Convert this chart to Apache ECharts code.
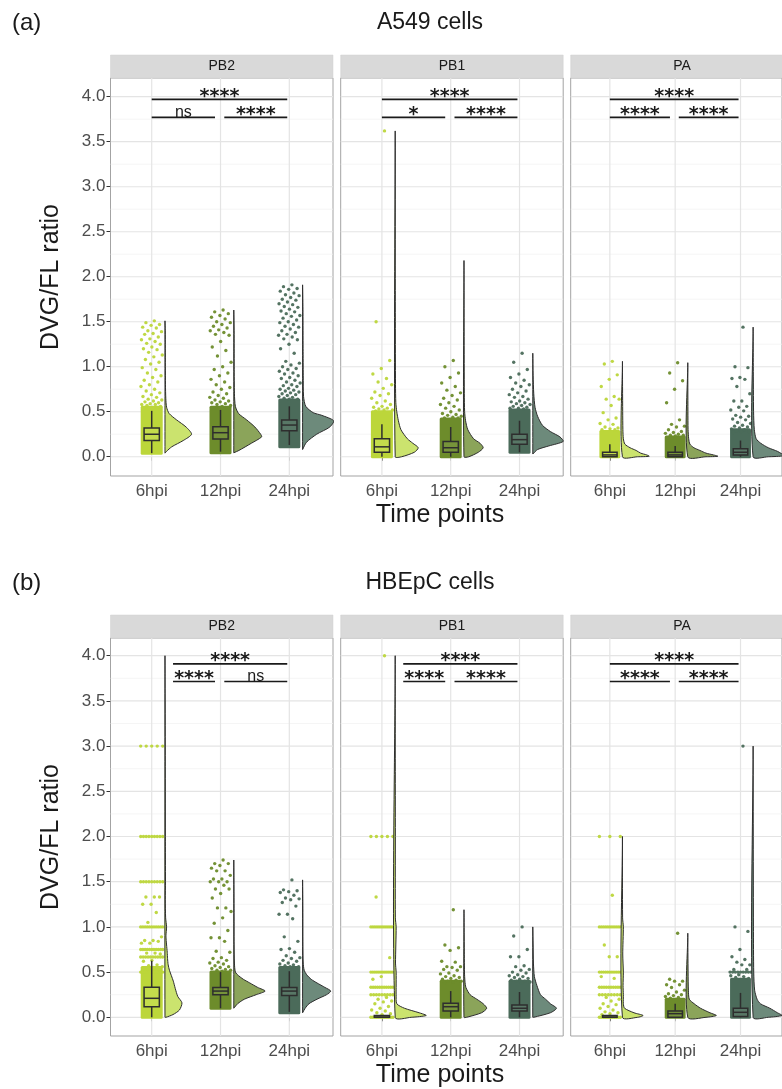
<!DOCTYPE html>
<html><head><meta charset="utf-8">
<script src="https://cdn.jsdelivr.net/npm/echarts@6/dist/echarts.min.js"></script>
<style>html,body{margin:0;padding:0;background:#fff}#c{width:782px;height:1089px}</style>
</head><body><div id="c"></div>
<script>
// ---------------- DATA ----------------
const categories = ['6hpi', '12hpi', '24hpi'];
const genes = ['PB2', 'PB1', 'PA'];
const cellTitles = ['A549 cells', 'HBEpC cells'];
const panelTags = ['(a)', '(b)'];
const yTickValues = [0, 0.5, 1, 1.5, 2, 2.5, 3, 3.5, 4];
const yMinorValues = [0.25, 0.75, 1.25, 1.75, 2.25, 2.75, 3.25, 3.75];

// box stats per group: [lower whisker, q1, median, q3, upper whisker]
const box_a_PB2 = [[0.04, 0.18, 0.25, 0.32, 0.51], [0.056, 0.197, 0.267, 0.333, 0.52], [0.13, 0.289, 0.352, 0.408, 0.56]];
const box_a_PB1 = [[0.0, 0.05, 0.11, 0.2, 0.36], [0.0, 0.05, 0.1, 0.17, 0.33], [0.05, 0.14, 0.19, 0.25, 0.4]];
const box_a_PA = [[0.0, 0.0, 0.02, 0.05, 0.14], [0.0, 0.0, 0.02, 0.05, 0.12], [0.0, 0.02, 0.05, 0.09, 0.18]];
const box_b_PB2 = [[0.0, 0.117, 0.21, 0.332, 0.626], [0.1, 0.25, 0.29, 0.33, 0.5], [0.06, 0.24, 0.29, 0.33, 0.51]];
const box_b_PB1 = [[0.0, 0.0, 0.0, 0.02, 0.02], [0.0, 0.07, 0.117, 0.155, 0.29], [0.0, 0.07, 0.1, 0.135, 0.28]];
const box_b_PA = [[0.0, 0.0, 0.0, 0.02, 0.02], [0.0, 0.0, 0.04, 0.07, 0.15], [0.0, 0.01, 0.055, 0.1, 0.27]];

// densely overplotted value range of the jittered cloud: [low, high] (null = none)
const dense_a_PB2 = [[0.04, 0.55], [0.045, 0.55], [0.11, 0.63]];
const dense_a_PB1 = [[0.0, 0.5], [0.0, 0.42], [0.05, 0.52]];
const dense_a_PA = [[0.0, 0.28], [0.0, 0.22], [0.0, 0.3]];
const dense_b_PB2 = [[0.0, 0.55], [0.1, 0.5], [0.05, 0.55]];
const dense_b_PB1 = [null, [0.0, 0.4], [0.0, 0.4]];
const dense_b_PA = [null, [0.0, 0.2], [0.0, 0.42]];

// individually visible points
const pts_a_PB2 = [
  [1.51, 1.49, 1.47, 1.46, 1.44, 1.43, 1.4, 1.39, 1.37, 1.36, 1.33, 1.31, 1.3, 1.28, 1.26, 1.25, 1.22, 1.2, 1.19, 1.16, 1.13, 1.11, 1.08, 1.05, 1.03, 0.99, 0.97, 0.93, 0.9, 0.88, 0.85, 0.83, 0.8, 0.78, 0.75, 0.73, 0.71, 0.69, 0.67, 0.66, 0.64, 0.63, 0.62, 0.61, 0.6, 0.59, 0.58, 0.58, 0.57, 0.56],
  [1.63, 1.61, 1.59, 1.57, 1.55, 1.53, 1.5, 1.49, 1.47, 1.45, 1.43, 1.41, 1.4, 1.38, 1.36, 1.35, 1.28, 1.22, 1.18, 1.12, 1.05, 1.0, 0.97, 0.93, 0.9, 0.86, 0.83, 0.8, 0.77, 0.75, 0.72, 0.7, 0.68, 0.66, 0.65, 0.63, 0.62, 0.61, 0.6, 0.59, 0.58, 0.57, 0.56],
  [1.91, 1.89, 1.87, 1.86, 1.84, 1.82, 1.8, 1.79, 1.77, 1.75, 1.74, 1.72, 1.7, 1.69, 1.67, 1.66, 1.64, 1.62, 1.61, 1.59, 1.57, 1.56, 1.54, 1.52, 1.5, 1.49, 1.47, 1.45, 1.44, 1.42, 1.4, 1.38, 1.36, 1.35, 1.33, 1.31, 1.3, 1.25, 1.2, 1.15, 1.06, 1.04, 1.02, 1.0, 0.98, 0.97, 0.95, 0.93, 0.92, 0.9, 0.88, 0.87, 0.85, 0.83, 0.82, 0.8, 0.79, 0.78, 0.76, 0.75, 0.74, 0.73, 0.72, 0.71, 0.7, 0.69, 0.68, 0.67, 0.66, 0.65, 0.64, 0.64]
];
const pts_a_PB1 = [
  [3.62, 1.5, 1.07, 0.98, 0.92, 0.87, 0.83, 0.8, 0.76, 0.72, 0.7, 0.68, 0.65, 0.62, 0.6, 0.58, 0.56, 0.55, 0.54, 0.53, 0.52, 0.52, 0.51],
  [1.07, 1.0, 0.93, 0.88, 0.82, 0.78, 0.74, 0.71, 0.68, 0.65, 0.63, 0.6, 0.58, 0.56, 0.54, 0.52, 0.5, 0.48, 0.47, 0.46, 0.45, 0.44, 0.43, 0.43],
  [1.15, 1.05, 0.97, 0.92, 0.88, 0.85, 0.82, 0.8, 0.78, 0.75, 0.73, 0.71, 0.69, 0.67, 0.66, 0.64, 0.62, 0.61, 0.6, 0.59, 0.58, 0.57, 0.56, 0.55, 0.54, 0.54, 0.53]
];
const pts_a_PA = [
  [1.06, 1.03, 0.91, 0.86, 0.78, 0.67, 0.64, 0.64, 0.57, 0.49, 0.43, 0.41, 0.37, 0.36, 0.33, 0.32, 0.31, 0.3, 0.3],
  [1.045, 0.93, 0.845, 0.75, 0.6, 0.41, 0.36, 0.34, 0.33, 0.3, 0.28, 0.27, 0.26, 0.25, 0.24, 0.24, 0.23],
  [1.44, 1.0, 0.99, 0.88, 0.87, 0.86, 0.78, 0.7, 0.62, 0.62, 0.56, 0.55, 0.52, 0.51, 0.46, 0.45, 0.44, 0.42, 0.41, 0.38, 0.37, 0.35, 0.34, 0.33, 0.32, 0.31, 0.3, 0.29, 0.28, 0.28, 0.27]
];
const pts_b_PB2 = [
  [1.33, 1.33, 1.33, 1.25, 1.25, 1.16, 1.05, 0.89, 0.85, 0.85, 0.84, 0.82, 0.82, 0.71, 0.71, 0.7, 0.63, 0.62, 0.58, 0.57, 0.56, 0.55],
  [1.74, 1.7, 1.7, 1.68, 1.65, 1.62, 1.62, 1.57, 1.53, 1.53, 1.5, 1.5, 1.5, 1.46, 1.42, 1.42, 1.37, 1.32, 1.21, 1.21, 1.17, 1.1, 1.04, 0.96, 0.88, 0.88, 0.84, 0.73, 0.72, 0.66, 0.65, 0.63, 0.61, 0.6, 0.59, 0.57, 0.56, 0.55, 0.54, 0.53, 0.52, 0.52, 0.51],
  [1.52, 1.41, 1.4, 1.39, 1.38, 1.35, 1.32, 1.31, 1.3, 1.27, 1.23, 1.14, 1.14, 1.09, 0.89, 0.84, 0.76, 0.75, 0.72, 0.68, 0.66, 0.65, 0.63, 0.62, 0.6, 0.59, 0.58, 0.57, 0.56, 0.56, 0.55]
];
const pts_b_PB1 = [
  [4.0, 1.33, 0.66, 0.45, 0.42, 0.22, 0.2, 0.18, 0.17, 0.15, 0.12, 0.1, 0.08, 0.07, 0.05, 0.04, 0.03],
  [1.19, 0.8, 0.77, 0.74, 0.62, 0.61, 0.56, 0.56, 0.55, 0.53, 0.52, 0.49, 0.48, 0.46, 0.45, 0.44, 0.43, 0.42, 0.41, 0.4, 0.4, 0.39, 0.38],
  [1.0, 0.9, 0.75, 0.67, 0.67, 0.57, 0.56, 0.53, 0.52, 0.5, 0.49, 0.47, 0.46, 0.45, 0.44, 0.43, 0.42, 0.41, 0.4, 0.4, 0.39, 0.38]
];
const pts_b_PA = [
  [1.35, 0.8, 0.67, 0.67, 0.45, 0.43, 0.22, 0.2, 0.18, 0.15, 0.14, 0.12, 0.1, 0.08, 0.06, 0.05, 0.04, 0.03],
  [0.93, 0.42, 0.4, 0.4, 0.36, 0.36, 0.33, 0.3, 0.28, 0.26, 0.25, 0.24, 0.23, 0.22, 0.21],
  [3.0, 1.0, 0.95, 0.75, 0.67, 0.64, 0.61, 0.58, 0.58, 0.53, 0.53, 0.47, 0.46, 0.45, 0.44, 0.43]
];

// tied values that form horizontal rows of points: [value, count]
const rows_a_PB2 = [[], [], []];
const rows_a_PB1 = [[], [], []];
const rows_a_PA = [[], [], []];
const rows_b_PB2 = [[[3.0, 5], [2.0, 9], [1.5, 9], [1.0, 11], [0.75, 11], [0.667, 10], [0.5, 11]], [], []];
const rows_b_PB1 = [[[2.0, 5], [1.0, 12], [0.5, 12], [0.333, 11], [0.25, 9], [0.0, 12]], [], []];
const rows_b_PA = [[[2.0, 3], [1.0, 11], [0.5, 11], [0.333, 10], [0.25, 8], [0.0, 12]], [], [[0.5, 9]]];

// half-violin density profile per group: [value, relative density]
const viol_a_PB2 = [
  [[0.04, 0], [0.06, 0.05], [0.11, 0.21], [0.18, 0.57], [0.25, 0.83], [0.33, 0.66], [0.41, 0.36], [0.48, 0.13], [0.55, 0.05], [0.65, 0.025], [0.8, 0.015], [1.0, 0.012], [1.2, 0.01], [1.4, 0.008], [1.51, 0]],
  [[0.044, 0], [0.07, 0.16], [0.15, 0.55], [0.22, 0.87], [0.25, 0.84], [0.33, 0.66], [0.41, 0.4], [0.48, 0.15], [0.56, 0.05], [0.7, 0.02], [1.0, 0.012], [1.4, 0.01], [1.63, 0]],
  [[0.08, 0], [0.16, 0.12], [0.25, 0.44], [0.33, 0.85], [0.4, 0.97], [0.46, 0.6], [0.49, 0.33], [0.56, 0.1], [0.67, 0.03], [0.9, 0.02], [1.2, 0.015], [1.6, 0.012], [1.91, 0]]
];
const viol_a_PB1 = [
  [[0.0, 0.2], [0.05, 0.6], [0.1, 0.72], [0.15, 0.55], [0.2, 0.38], [0.3, 0.18], [0.4, 0.1], [0.5, 0.05], [0.6, 0.02], [0.8, 0.01], [1.5, 0.005], [3.62, 0]],
  [[0.0, 0.15], [0.05, 0.45], [0.1, 0.6], [0.15, 0.5], [0.2, 0.3], [0.3, 0.12], [0.4, 0.05], [0.5, 0.02], [0.7, 0.01], [2.18, 0]],
  [[0.03, 0], [0.08, 0.15], [0.12, 0.5], [0.17, 0.95], [0.22, 0.85], [0.28, 0.55], [0.35, 0.3], [0.45, 0.15], [0.55, 0.07], [0.7, 0.03], [0.9, 0.01], [1.15, 0]]
];
const viol_a_PA = [
  [[0.0, 0.5], [0.005, 0.88], [0.02, 0.8], [0.04, 0.6], [0.07, 0.45], [0.1, 0.25], [0.14, 0.08], [0.2, 0.03], [0.3, 0.015], [0.5, 0.008], [1.06, 0]],
  [[0.0, 0.6], [0.005, 0.99], [0.02, 0.85], [0.04, 0.6], [0.07, 0.4], [0.1, 0.2], [0.14, 0.07], [0.2, 0.03], [0.3, 0.01], [0.5, 0.005], [1.045, 0]],
  [[0.0, 0.5], [0.01, 1.0], [0.03, 0.95], [0.06, 0.8], [0.1, 0.5], [0.15, 0.25], [0.2, 0.1], [0.3, 0.04], [0.5, 0.015], [1.0, 0.005], [1.44, 0]]
];
const viol_b_PB2 = [
  [[0.0, 0.03], [0.03, 0.25], [0.08, 0.45], [0.16, 0.53], [0.23, 0.4], [0.32, 0.32], [0.4, 0.26], [0.46, 0.2], [0.52, 0.14], [0.58, 0.1], [0.65, 0.08], [0.72, 0.07], [0.8, 0.05], [0.9, 0.03], [1.0, 0.05], [1.1, 0.02], [1.3, 0.01], [1.5, 0.015], [2.0, 0.012], [3.0, 0.008], [4.0, 0]],
  [[0.1, 0], [0.15, 0.12], [0.2, 0.33], [0.25, 0.7], [0.29, 0.98], [0.33, 0.75], [0.38, 0.5], [0.42, 0.3], [0.46, 0.15], [0.5, 0.05], [0.6, 0.02], [0.8, 0.01], [1.2, 0.008], [1.74, 0]],
  [[0.05, 0], [0.1, 0.08], [0.15, 0.2], [0.2, 0.45], [0.25, 0.75], [0.29, 0.88], [0.33, 0.7], [0.38, 0.45], [0.42, 0.27], [0.47, 0.13], [0.52, 0.05], [0.6, 0.02], [0.8, 0.01], [1.2, 0.008], [1.52, 0]]
];
const viol_b_PB1 = [
  [[0.0, 0.5], [0.02, 0.97], [0.05, 0.75], [0.1, 0.29], [0.15, 0.05], [0.25, 0.03], [0.33, 0.03], [0.5, 0.03], [0.6, 0.01], [1.0, 0.03], [1.1, 0.005], [2.0, 0.005], [4.0, 0]],
  [[0.0, 0.08], [0.05, 0.55], [0.1, 0.71], [0.15, 0.6], [0.2, 0.4], [0.25, 0.19], [0.33, 0.06], [0.4, 0.03], [0.5, 0.015], [0.8, 0.008], [1.19, 0]],
  [[0.0, 0.03], [0.05, 0.55], [0.1, 0.74], [0.15, 0.55], [0.2, 0.4], [0.25, 0.24], [0.35, 0.13], [0.45, 0.05], [0.6, 0.02], [0.8, 0.01], [1.0, 0]]
];
const viol_b_PA = [
  [[0.0, 0.5], [0.02, 0.68], [0.05, 0.38], [0.1, 0.07], [0.15, 0.03], [0.25, 0.03], [0.35, 0.02], [0.5, 0.03], [0.7, 0.01], [1.0, 0.03], [1.1, 0.005], [2.0, 0]],
  [[0.0, 0.6], [0.02, 0.94], [0.05, 0.73], [0.1, 0.42], [0.15, 0.21], [0.2, 0.05], [0.3, 0.02], [0.5, 0.01], [0.93, 0]],
  [[0.0, 0.5], [0.02, 0.95], [0.05, 0.8], [0.1, 0.55], [0.15, 0.24], [0.2, 0.13], [0.3, 0.05], [0.5, 0.02], [1.0, 0.01], [3.0, 0]]
];

// significance brackets: [from x, to x, y, label]
const sig_a_PB2 = [[1, 2.97, 3.97, '****'], [1, 1.92, 3.77, 'ns'], [2.055, 2.97, 3.77, '****']];
const sig_a_PB1 = [[1, 2.97, 3.97, '****'], [1, 1.92, 3.77, '*'], [2.055, 2.97, 3.77, '****']];
const sig_a_PA = [[1, 2.97, 3.97, '****'], [1, 1.92, 3.77, '****'], [2.055, 2.97, 3.77, '****']];
const sig_b_PB2 = [[1.31, 2.97, 3.91, '****'], [1.31, 1.92, 3.715, '****'], [2.055, 2.97, 3.715, 'ns']];
const sig_b_PB1 = [[1.31, 2.97, 3.91, '****'], [1.31, 1.92, 3.715, '****'], [2.055, 2.97, 3.715, '****']];
const sig_b_PA = [[1, 2.97, 3.91, '****'], [1, 1.92, 3.715, '****'], [2.055, 2.97, 3.715, '****']];

// ---------------- STYLE / LAYOUT ----------------
const FONT = "'Liberation Sans', Arial, Helvetica, sans-serif";
const pointColors = ['#bcd63a', '#6d8c2b', '#4b6b5a'];
const violinColors = ['#cbe36e', '#8ba45a', '#6d8a7b'];
const boxColors = ['#c4dc4c', '#76933a', '#587766'];
const XMIN = 0.401, XMAX = 3.635;
const JW = 0.16, BW = 0.111, VOFF = 0.193, VSCALE = 0.465;
const rowTop = [78, 638], rowH = 398, colLeft = [110.5, 340.7, 570.7], colW = 222.5;
const yRange = [[-0.214, 4.208], [-0.207, 4.196]];

const panels = [
  {box: box_a_PB2, dense: dense_a_PB2, pts: pts_a_PB2, rows: rows_a_PB2, viol: viol_a_PB2, sig: sig_a_PB2},
  {box: box_a_PB1, dense: dense_a_PB1, pts: pts_a_PB1, rows: rows_a_PB1, viol: viol_a_PB1, sig: sig_a_PB1},
  {box: box_a_PA, dense: dense_a_PA, pts: pts_a_PA, rows: rows_a_PA, viol: viol_a_PA, sig: sig_a_PA},
  {box: box_b_PB2, dense: dense_b_PB2, pts: pts_b_PB2, rows: rows_b_PB2, viol: viol_b_PB2, sig: sig_b_PB2},
  {box: box_b_PB1, dense: dense_b_PB1, pts: pts_b_PB1, rows: rows_b_PB1, viol: viol_b_PB1, sig: sig_b_PB1},
  {box: box_b_PA, dense: dense_b_PA, pts: pts_b_PA, rows: rows_b_PA, viol: viol_b_PA, sig: sig_b_PA}
];

const grids = [], xAxes = [], yAxes = [], series = [], graphics = [];

panels.forEach((P, k) => {
  const r = Math.floor(k / 3), c = k % 3;
  const yr = yRange[r];
  grids.push({left: colLeft[c], top: rowTop[r], width: colW, height: rowH, show: true,
    borderColor: '#a3a3a3', borderWidth: 1, backgroundColor: '#fff', containLabel: false});
  xAxes.push({gridIndex: k, type: 'value', min: XMIN, max: XMAX,
    splitLine: {show: false}, axisLine: {show: false},
    axisTick: {show: true, customValues: [1, 2, 3], length: 4, lineStyle: {color: '#333', width: 1}},
    axisLabel: {show: true, customValues: [1, 2, 3], formatter: v => categories[Math.round(v) - 1],
      fontSize: 17, color: '#4d4d4d', fontFamily: FONT, margin: 7}});
  yAxes.push({gridIndex: k, type: 'value', min: yr[0], max: yr[1],
    splitLine: {show: false}, axisLine: {show: false},
    axisTick: {show: c === 0, customValues: yTickValues, length: 4, lineStyle: {color: '#333', width: 1}},
    axisLabel: {show: c === 0, customValues: yTickValues, formatter: v => v.toFixed(1),
      fontSize: 17, color: '#4d4d4d', fontFamily: FONT, margin: 5}});

  const common = {xAxisIndex: k, yAxisIndex: k, silent: true, animation: false};

  // grid lines
  const gl = yTickValues.map(v => [v, 0]).concat(yMinorValues.map(v => [v, 1])).concat([1, 2, 3].map(v => [v, 2]));
  series.push(Object.assign({type: 'custom', z: 1, data: gl, renderItem: (params, api) => {
    const v = api.value(0), t = api.value(1);
    let a, b;
    if (t < 2) { a = api.coord([XMIN, v]); b = api.coord([XMAX, v]); }
    else { a = api.coord([v, yr[0]]); b = api.coord([v, yr[1]]); }
    return {type: 'line', shape: {x1: a[0], y1: a[1], x2: b[0], y2: b[1]},
      style: {stroke: t === 1 ? '#f1f1f1' : '#e4e4e4', lineWidth: t === 1 ? 0.7 : 1.2}};
  }}, common));

  // dense clouds
  const dd = [];
  P.dense.forEach((d, gi) => { if (d) dd.push([gi + 1, d[0], d[1], gi]); });
  series.push(Object.assign({type: 'custom', z: 2, data: dd, renderItem: (params, api) => {
    const cx = api.value(0), lo = api.value(1), hi = api.value(2), gi = api.value(3);
    const p1 = api.coord([cx - JW, hi]), p2 = api.coord([cx + JW, lo]);
    return {type: 'rect', shape: {x: p1[0], y: p1[1] - 1.5, width: p2[0] - p1[0], height: p2[1] - p1[1] + 3, r: 1.5},
      style: {fill: pointColors[gi]}};
  }}, common));

  // jittered points
  for (let gi = 0; gi < 3; gi++) {
    const data = [];
    P.pts[gi].forEach((v, i) => {
      const off = (((i + 1) * 0.6180339887) % 1) * 2 - 1;
      data.push([gi + 1 + off * JW, v]);
    });
    P.rows[gi].forEach(([v, n]) => {
      for (let j = 0; j < n; j++) data.push([gi + 1 - JW + (2 * JW) * (n > 1 ? j / (n - 1) : 0.5), v]);
    });
    series.push(Object.assign({type: 'scatter', z: 3, symbolSize: 3.4, data: data,
      itemStyle: {color: pointColors[gi], opacity: 0.95}}, common));
  }

  // boxplots
  series.push(Object.assign({type: 'custom', z: 4, data: P.box.map((b, gi) => [gi + 1].concat(b).concat([gi])),
    renderItem: (params, api) => {
      const cx = api.value(0), lw = api.value(1), q1 = api.value(2), md = api.value(3), q3 = api.value(4), hw = api.value(5), gi = api.value(6);
      const pLw = api.coord([cx, lw]), pHw = api.coord([cx, hw]);
      const a = api.coord([cx - BW, q3]), b = api.coord([cx + BW, q1]);
      const m1 = api.coord([cx - BW, md]), m2 = api.coord([cx + BW, md]);
      const st = {stroke: '#2e2e2e', lineWidth: 1.5};
      return {type: 'group', children: [
        {type: 'line', shape: {x1: pLw[0], y1: pLw[1], x2: pLw[0], y2: b[1]}, style: st},
        {type: 'line', shape: {x1: pHw[0], y1: pHw[1], x2: pHw[0], y2: a[1]}, style: st},
        {type: 'rect', shape: {x: a[0], y: a[1], width: b[0] - a[0], height: b[1] - a[1]},
          style: {fill: boxColors[gi], stroke: '#2e2e2e', lineWidth: 1.5}},
        {type: 'line', shape: {x1: m1[0], y1: m1[1], x2: m2[0], y2: m2[1]}, style: st}
      ]};
    }}, common));

  // half violins
  series.push(Object.assign({type: 'custom', z: 4, clip: true, data: P.viol.map((v, gi) => [gi + 1, 0, gi]),
    renderItem: (params, api) => {
      const gi = api.value(2), cx = api.value(0) + VOFF;
      const prof = P.viol[gi];
      const pts = prof.map(([y, d]) => api.coord([cx + d * VSCALE, y]));
      const yTop = prof[prof.length - 1][0], yBot = prof[0][0];
      pts.push(api.coord([cx, yTop]));
      pts.push(api.coord([cx, yBot]));
      return {type: 'polygon', shape: {points: pts, smooth: 0.25},
        style: {fill: violinColors[gi], stroke: '#2e2e2e', lineWidth: 1}};
    }}, common));

  // significance brackets
  series.push(Object.assign({type: 'custom', z: 6, data: P.sig.map((s, i) => [s[0], s[2], s[1], i]),
    renderItem: (params, api) => {
      const x1 = api.value(0), y = api.value(1), x2 = api.value(2), i = api.value(3);
      const lab = P.sig[i][3];
      const a = api.coord([x1, y]), b = api.coord([x2, y]);
      const stars = lab.indexOf('*') >= 0;
      return {type: 'group', children: [
        {type: 'line', shape: {x1: a[0], y1: a[1], x2: b[0], y2: b[1]}, style: {stroke: '#1a1a1a', lineWidth: 1.7}},
        {type: 'text', style: {text: lab, x: (a[0] + b[0]) / 2, y: stars ? a[1] + 7 : a[1] + 3,
          textAlign: 'center', textVerticalAlign: 'bottom', fill: '#1a1a1a',
          font: stars ? "bold 19px 'DejaVu Sans', sans-serif" : "16px " + FONT}}
      ]};
    }}, common));

  // strip
  graphics.push({type: 'rect', shape: {x: colLeft[c], y: rowTop[r] - 23, width: colW, height: 23},
    style: {fill: '#d9d9d9', stroke: '#d0d0d0', lineWidth: 0.5}, silent: true});
  graphics.push({type: 'text', x: colLeft[c] + colW / 2, y: rowTop[r] - 11.5,
    style: {text: genes[c], fill: '#1a1a1a', font: '14px ' + FONT, textAlign: 'center', textVerticalAlign: 'middle'}, silent: true});
});

// titles and axis titles
[0, 1].forEach(r => {
  const top = rowTop[r];
  graphics.push({type: 'text', x: 12, y: top - 55, style: {text: panelTags[r], fill: '#1a1a1a', font: '24px ' + FONT, textAlign: 'left', textVerticalAlign: 'middle'}});
  graphics.push({type: 'text', x: 430, y: top - 55, style: {text: cellTitles[r], fill: '#1a1a1a', font: '23px ' + FONT, textAlign: 'center', textVerticalAlign: 'middle'}});
  graphics.push({type: 'text', x: 440, y: top + rowH + 39, style: {text: 'Time points', fill: '#1a1a1a', font: '25px ' + FONT, textAlign: 'center', textVerticalAlign: 'middle'}});
  graphics.push({type: 'text', x: 51, y: top + rowH / 2, rotation: Math.PI / 2,
    style: {text: 'DVG/FL ratio', fill: '#1a1a1a', font: '25px ' + FONT, textAlign: 'center', textVerticalAlign: 'middle'}});
});

const chart = echarts.init(document.getElementById('c'), null, {renderer: 'canvas'});
chart.setOption({
  animation: false,
  backgroundColor: '#fff',
  grid: grids, xAxis: xAxes, yAxis: yAxes, series: series,
  graphic: {elements: graphics}
});
</script>
</body></html>
